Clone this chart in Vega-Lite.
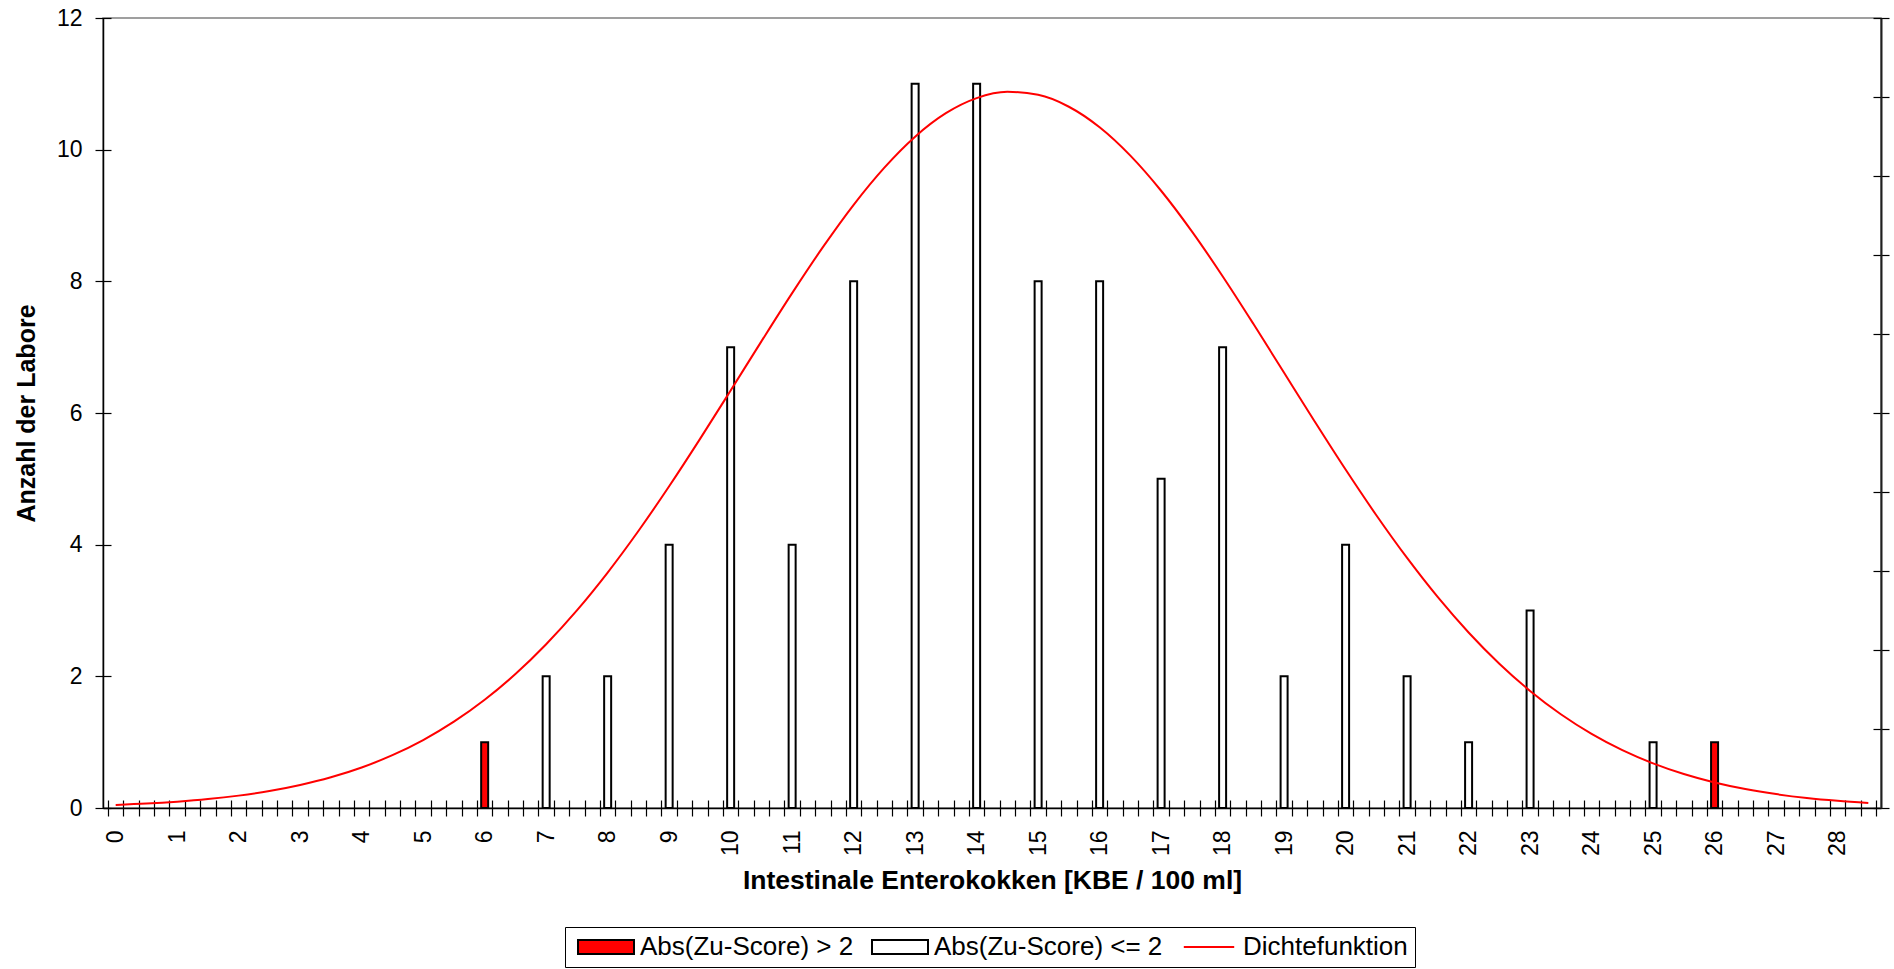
{
  "$schema": "https://vega.github.io/schema/vega-lite/v6.json",
  "autosize": {"type": "none"},
  "width": 1778,
  "height": 790,
  "padding": {"left": 103, "top": 18, "right": 13, "bottom": 161},
  "background": "white",
  "config": {
    "font": "Liberation Sans",
    "view": {"stroke": "#808080", "strokeWidth": 1.5},
    "axis": {"grid": false, "labelColor": "#000000", "titleColor": "#000000", "domainColor": "#000000", "tickColor": "#000000", "domainWidth": 1.5, "tickWidth": 1.2}
  },
  "datasets": {
    "balken": [
      {"wert": 6, "anzahl": 1, "gruppe": "Abs(Zu-Score) > 2"},
      {"wert": 7, "anzahl": 2, "gruppe": "Abs(Zu-Score) <= 2"},
      {"wert": 8, "anzahl": 2, "gruppe": "Abs(Zu-Score) <= 2"},
      {"wert": 9, "anzahl": 4, "gruppe": "Abs(Zu-Score) <= 2"},
      {"wert": 10, "anzahl": 7, "gruppe": "Abs(Zu-Score) <= 2"},
      {"wert": 11, "anzahl": 4, "gruppe": "Abs(Zu-Score) <= 2"},
      {"wert": 12, "anzahl": 8, "gruppe": "Abs(Zu-Score) <= 2"},
      {"wert": 13, "anzahl": 11, "gruppe": "Abs(Zu-Score) <= 2"},
      {"wert": 14, "anzahl": 11, "gruppe": "Abs(Zu-Score) <= 2"},
      {"wert": 15, "anzahl": 8, "gruppe": "Abs(Zu-Score) <= 2"},
      {"wert": 16, "anzahl": 8, "gruppe": "Abs(Zu-Score) <= 2"},
      {"wert": 17, "anzahl": 5, "gruppe": "Abs(Zu-Score) <= 2"},
      {"wert": 18, "anzahl": 7, "gruppe": "Abs(Zu-Score) <= 2"},
      {"wert": 19, "anzahl": 2, "gruppe": "Abs(Zu-Score) <= 2"},
      {"wert": 20, "anzahl": 4, "gruppe": "Abs(Zu-Score) <= 2"},
      {"wert": 21, "anzahl": 2, "gruppe": "Abs(Zu-Score) <= 2"},
      {"wert": 22, "anzahl": 1, "gruppe": "Abs(Zu-Score) <= 2"},
      {"wert": 23, "anzahl": 3, "gruppe": "Abs(Zu-Score) <= 2"},
      {"wert": 25, "anzahl": 1, "gruppe": "Abs(Zu-Score) <= 2"},
      {"wert": 26, "anzahl": 1, "gruppe": "Abs(Zu-Score) > 2"}
    ],
    "kurve": [
      {"wert": 0, "dichte": 0.047}, {"wert": 0.5, "dichte": 0.067}, {"wert": 1, "dichte": 0.096}, {"wert": 1.5, "dichte": 0.135},
      {"wert": 2, "dichte": 0.188}, {"wert": 2.5, "dichte": 0.257}, {"wert": 3, "dichte": 0.349}, {"wert": 3.5, "dichte": 0.466},
      {"wert": 4, "dichte": 0.615}, {"wert": 4.5, "dichte": 0.802}, {"wert": 5, "dichte": 1.032}, {"wert": 5.5, "dichte": 1.311},
      {"wert": 6, "dichte": 1.644}, {"wert": 6.5, "dichte": 2.035}, {"wert": 7, "dichte": 2.488}, {"wert": 7.5, "dichte": 3.002},
      {"wert": 8, "dichte": 3.577}, {"wert": 8.5, "dichte": 4.208}, {"wert": 9, "dichte": 4.887}, {"wert": 9.5, "dichte": 5.603},
      {"wert": 10, "dichte": 6.342}, {"wert": 10.5, "dichte": 7.088}, {"wert": 11, "dichte": 7.821}, {"wert": 11.5, "dichte": 8.519},
      {"wert": 12, "dichte": 9.163}, {"wert": 12.5, "dichte": 9.728}, {"wert": 13, "dichte": 10.198}, {"wert": 13.5, "dichte": 10.554},
      {"wert": 14, "dichte": 10.783}, {"wert": 14.5, "dichte": 10.878}, {"wert": 15, "dichte": 10.833}, {"wert": 15.5, "dichte": 10.652},
      {"wert": 16, "dichte": 10.34}, {"wert": 16.5, "dichte": 9.909}, {"wert": 17, "dichte": 9.376}, {"wert": 17.5, "dichte": 8.759},
      {"wert": 18, "dichte": 8.078}, {"wert": 18.5, "dichte": 7.355}, {"wert": 19, "dichte": 6.611}, {"wert": 19.5, "dichte": 5.868},
      {"wert": 20, "dichte": 5.141}, {"wert": 20.5, "dichte": 4.447}, {"wert": 21, "dichte": 3.798}, {"wert": 21.5, "dichte": 3.202},
      {"wert": 22, "dichte": 2.666}, {"wert": 22.5, "dichte": 2.191}, {"wert": 23, "dichte": 1.778}, {"wert": 23.5, "dichte": 1.424},
      {"wert": 24, "dichte": 1.126}, {"wert": 24.5, "dichte": 0.879}, {"wert": 25, "dichte": 0.678}, {"wert": 25.5, "dichte": 0.516},
      {"wert": 26, "dichte": 0.388}, {"wert": 26.5, "dichte": 0.288}, {"wert": 27, "dichte": 0.211}, {"wert": 27.5, "dichte": 0.152},
      {"wert": 28, "dichte": 0.109}, {"wert": 28.5, "dichte": 0.077}
    ]
  },
  "resolve": {"axis": {"x": "independent", "y": "independent"}},
  "layer": [
    {
      "data": {"name": "balken"},
      "transform": [{"filter": "datum.gruppe == 'Abs(Zu-Score) <= 2'"}],
      "mark": {"type": "bar", "width": 7, "stroke": "#000000", "strokeWidth": 2},
      "encoding": {
        "x": {
          "field": "wert", "type": "quantitative",
          "scale": {"domain": [-0.125, 28.625], "nice": false, "zero": false},
          "axis": {
            "orient": "bottom",
            "values": [0,1,2,3,4,5,6,7,8,9,10,11,12,13,14,15,16,17,18,19,20,21,22,23,24,25,26,27,28],
            "ticks": false, "labelAngle": -90, "labelPadding": 22, "labelFontSize": 23,
            "labelFlush": false, "labelOverlap": false,
            "title": "Intestinale Enterokokken [KBE / 100 ml]", "titleFontSize": 26.5, "titleFontWeight": "bold", "titlePadding": 12
          }
        },
        "y": {
          "field": "anzahl", "type": "quantitative",
          "scale": {"domain": [0, 12], "nice": false},
          "axis": {
            "orient": "left", "values": [0,2,4,6,8,10,12], "ticks": false,
            "labelPadding": 21, "labelFontSize": 23, "labelFlush": false,
            "title": "Anzahl der Labore", "titleFontSize": 25, "titleFontWeight": "bold", "titlePadding": 17
          }
        },
        "fill": {
          "field": "gruppe", "type": "nominal",
          "scale": {"domain": ["Abs(Zu-Score) > 2", "Abs(Zu-Score) <= 2", "Dichtefunktion"], "range": ["#FF0000", "#FFFFFF", "transparent"]},
          "legend": {
            "orient": "none", "legendX": 462, "legendY": 909, "direction": "horizontal",
            "title": null, "strokeColor": "#000000", "fillColor": "#FFFFFF", "padding": 7,
            "labelFontSize": 26, "labelColor": "#000000", "labelOffset": 42, "columnPadding": 12, "labelLimit": 400,
            "symbolSize": 196, "symbolType": "M-1,-1H7V1H-1Z", "symbolStrokeWidth": 2, "symbolStrokeColor": "#000000",
            "encode": {
              "symbols": {
                "update": {
                  "shape": {"signal": "datum.value === 'Dichtefunktion' ? 'M-0.6,0H6.6' : 'M-1,-1H7V1H-1Z'"},
                  "stroke": {"signal": "datum.value === 'Dichtefunktion' ? '#FF0000' : '#000000'"},
                  "strokeWidth": {"value": 2}
                }
              }
            }
          }
        }
      }
    },
    {
      "data": {"name": "balken"},
      "transform": [{"filter": "datum.gruppe == 'Abs(Zu-Score) > 2'"}],
      "mark": {"type": "bar", "width": 7, "stroke": "#000000", "strokeWidth": 2},
      "encoding": {
        "x": {
          "field": "wert", "type": "quantitative",
          "scale": {"domain": [-0.125, 28.625], "nice": false, "zero": false},
          "axis": {
            "orient": "bottom",
            "values": [-0.125,0.125,0.375,0.625,0.875,1.125,1.375,1.625,1.875,2.125,2.375,2.625,2.875,3.125,3.375,3.625,3.875,4.125,4.375,4.625,4.875,5.125,5.375,5.625,5.875,6.125,6.375,6.625,6.875,7.125,7.375,7.625,7.875,8.125,8.375,8.625,8.875,9.125,9.375,9.625,9.875,10.125,10.375,10.625,10.875,11.125,11.375,11.625,11.875,12.125,12.375,12.625,12.875,13.125,13.375,13.625,13.875,14.125,14.375,14.625,14.875,15.125,15.375,15.625,15.875,16.125,16.375,16.625,16.875,17.125,17.375,17.625,17.875,18.125,18.375,18.625,18.875,19.125,19.375,19.625,19.875,20.125,20.375,20.625,20.875,21.125,21.375,21.625,21.875,22.125,22.375,22.625,22.875,23.125,23.375,23.625,23.875,24.125,24.375,24.625,24.875,25.125,25.375,25.625,25.875,26.125,26.375,26.625,26.875,27.125,27.375,27.625,27.875,28.125,28.375,28.625],
            "domain": false, "labels": false, "tickSize": 16, "offset": -8, "title": null
          }
        },
        "y": {
          "field": "anzahl", "type": "quantitative",
          "scale": {"domain": [0, 12], "nice": false},
          "axis": {
            "orient": "left", "values": [0,2,4,6,8,10,12],
            "domain": false, "labels": false, "tickSize": 16, "offset": -8, "title": null
          }
        },
        "fill": {"field": "gruppe", "type": "nominal"}
      }
    },
    {
      "data": {"name": "kurve"},
      "mark": {"type": "line", "color": "#FF0000", "strokeWidth": 2, "interpolate": "monotone"},
      "encoding": {
        "x": {
          "field": "wert", "type": "quantitative",
          "scale": {"domain": [-0.125, 28.625], "nice": false, "zero": false},
          "axis": null
        },
        "y": {
          "field": "dichte", "type": "quantitative",
          "scale": {"domain": [0, 12], "nice": false},
          "axis": {
            "orient": "right", "values": [0,1.2,2.4,3.6,4.8,6,7.2,8.4,9.6,10.8,12],
            "domain": false, "labels": false, "tickSize": 16, "offset": -8, "title": null
          }
        }
      }
    },
    {
      "data": {"name": "kurve"},
      "mark": {"type": "line", "strokeOpacity": 0},
      "encoding": {
        "x": {
          "field": "wert", "type": "quantitative",
          "scale": {"domain": [-0.125, 28.625], "nice": false, "zero": false},
          "axis": null
        },
        "y": {
          "field": "dichte", "type": "quantitative",
          "scale": {"domain": [0, 12], "nice": false},
          "axis": {
            "orient": "right", "domain": true, "domainColor": "#202020", "domainWidth": 2,
            "ticks": false, "labels": false, "title": null
          }
        }
      }
    }
  ]
}
